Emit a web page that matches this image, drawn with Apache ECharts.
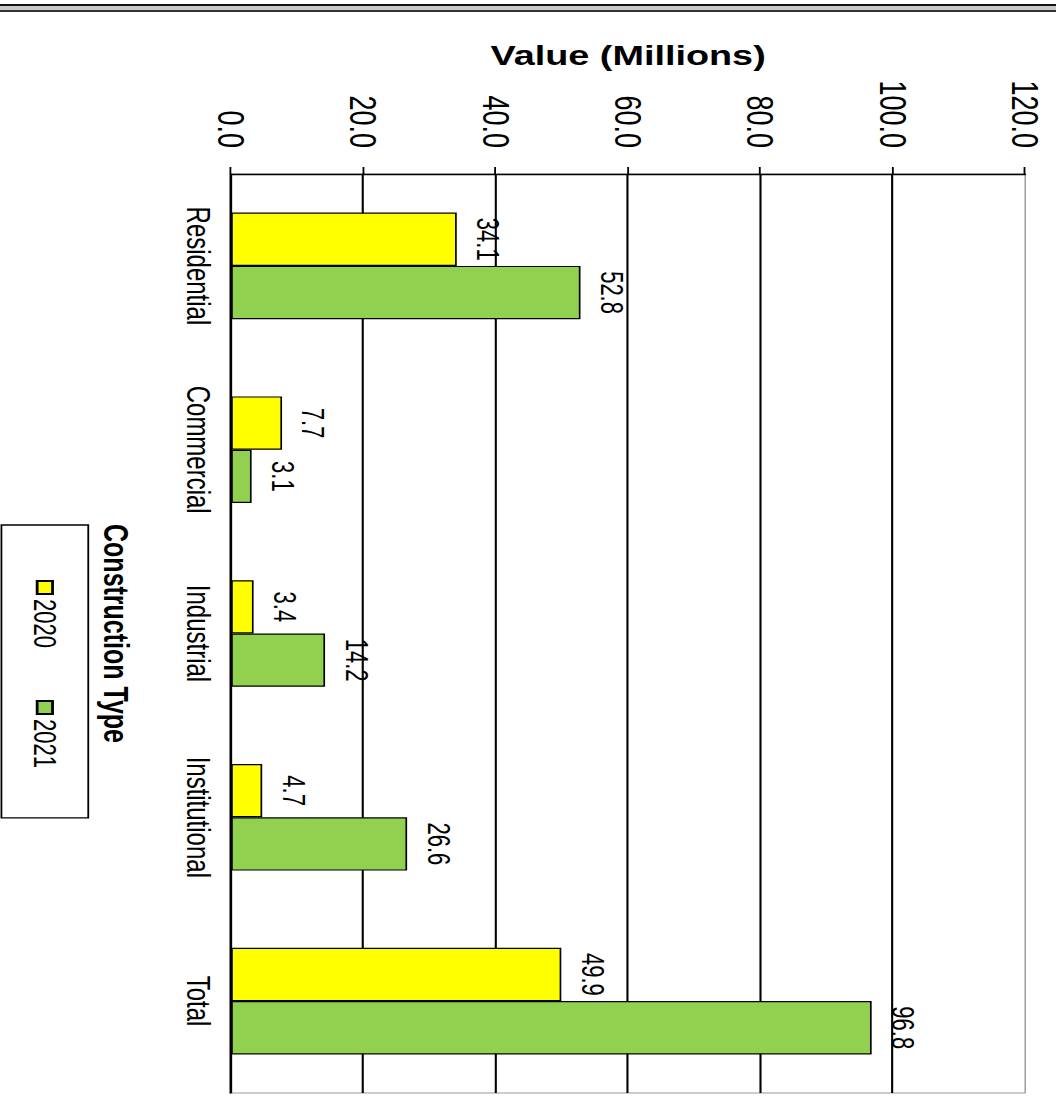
<!DOCTYPE html>
<html>
<head>
<meta charset="utf-8">
<script src="https://cdn.jsdelivr.net/npm/echarts@6/dist/echarts.min.js"></script>
<style>
  html, body { margin: 0; padding: 0; background: #fff; overflow: hidden; }
  body { width: 1056px; height: 1115px; position: relative; }
  .rule1 { position: absolute; left: 0; top: 4px; width: 1056px; height: 2px; background: #111; z-index: 5; }
  .rule2 { position: absolute; left: 0; top: 6px; width: 1056px; height: 4px; background: #c8c8c8; z-index: 5; }
  .rule3 { position: absolute; left: 0; top: 10px; width: 1056px; height: 2px; background: #333; z-index: 5; }
  /* chart is drawn upright, then turned a quarter to the right and stretched */
  #myChart {
    position: absolute; left: 0; top: 0;
    width: 1115px; height: 754px;
    transform-origin: 0 0;
    transform: translate(1056px, 0) rotate(90deg) scale(1, 1.4005);
  }
</style>
</head>
<body>
<div id="myChart"></div>
<div class="rule1"></div>
<div class="rule2"></div>
<div class="rule3"></div>
<script>
  const categories = ['Residential', 'Commercial', 'Industrial', 'Institutional', 'Total']
  const seriesNames = ['2020', '2021']
  const values2020 = [34.1, 7.7, 3.4, 4.7, 49.9]
  const values2021 = [52.8, 3.1, 14.2, 26.6, 96.8]
  const axisMin = 0
  const axisMax = 120
  const axisStep = 20

  const font = 'Liberation Sans, Arial, sans-serif'

  const myChart = echarts.init(document.getElementById('myChart'), null, {renderer: 'svg'})

  function barSeries(name, data, color) {
    return {
      name: name,
      type: 'bar',
      data: data,
      barGap: '0%',
      barCategoryGap: '42%',
      itemStyle: {
        color: color,
        borderColor: '#000',
        borderWidth: 1.2
      },
      label: {
        show: true,
        position: 'top',
        distance: 11,
        color: '#000',
        fontFamily: font,
        fontSize: 22,
        formatter: p => p.value.toFixed(1)
      }
    }
  }

  const option = {
    backgroundColor: '#fff',
    animation: false,
    grid: {
      show: true,
      left: 174,
      right: 22,
      top: 22,
      bottom: 165,
      borderColor: '#999',
      borderWidth: 1
    },
    legend: {
      data: seriesNames,
      left: 525,
      bottom: 1,
      orient: 'horizontal',
      itemWidth: 13,
      itemHeight: 11,
      itemGap: 52,
      padding: [20, 50, 20, 55],
      borderColor: '#000',
      borderWidth: 1.3,
      icon: 'rect',
      textStyle: {
        color: '#000',
        fontFamily: font,
        fontSize: 22
      }
    },
    xAxis: {
      type: 'category',
      data: categories,
      name: 'Construction Type',
      nameLocation: 'middle',
      nameGap: 69,
      nameTextStyle: {
        color: '#000',
        fontFamily: font,
        fontWeight: 'bold',
        fontSize: 25
      },
      axisLine: { lineStyle: { color: '#000', width: 1.3 } },
      axisTick: { length: 8, lineStyle: { color: '#000', width: 1.3 } },
      axisLabel: {
        color: '#000',
        fontFamily: font,
        fontSize: 24,
        margin: 11
      }
    },
    yAxis: {
      type: 'value',
      min: axisMin,
      max: axisMax,
      interval: axisStep,
      name: 'Value (Millions)',
      nameLocation: 'middle',
      nameGap: 100,
      nameTextStyle: {
        color: '#000',
        fontFamily: font,
        fontWeight: 'bold',
        fontSize: 27
      },
      axisLine: { show: true, lineStyle: { color: '#000', width: 1.3 } },
      axisTick: { show: true, length: 7, lineStyle: { color: '#000', width: 1.3 } },
      axisLabel: {
        color: '#000',
        fontFamily: font,
        fontSize: 27,
        margin: 26,
        formatter: v => v.toFixed(1)
      },
      splitLine: {
        show: true,
        showMaxLine: false,
        lineStyle: { color: '#000', width: 1.5 }
      }
    },
    series: [
      barSeries(seriesNames[0], values2020, '#ffff00'),
      barSeries(seriesNames[1], values2021, '#92d050')
    ]
  }
  myChart.setOption(option, true)
</script>
</body>
</html>
